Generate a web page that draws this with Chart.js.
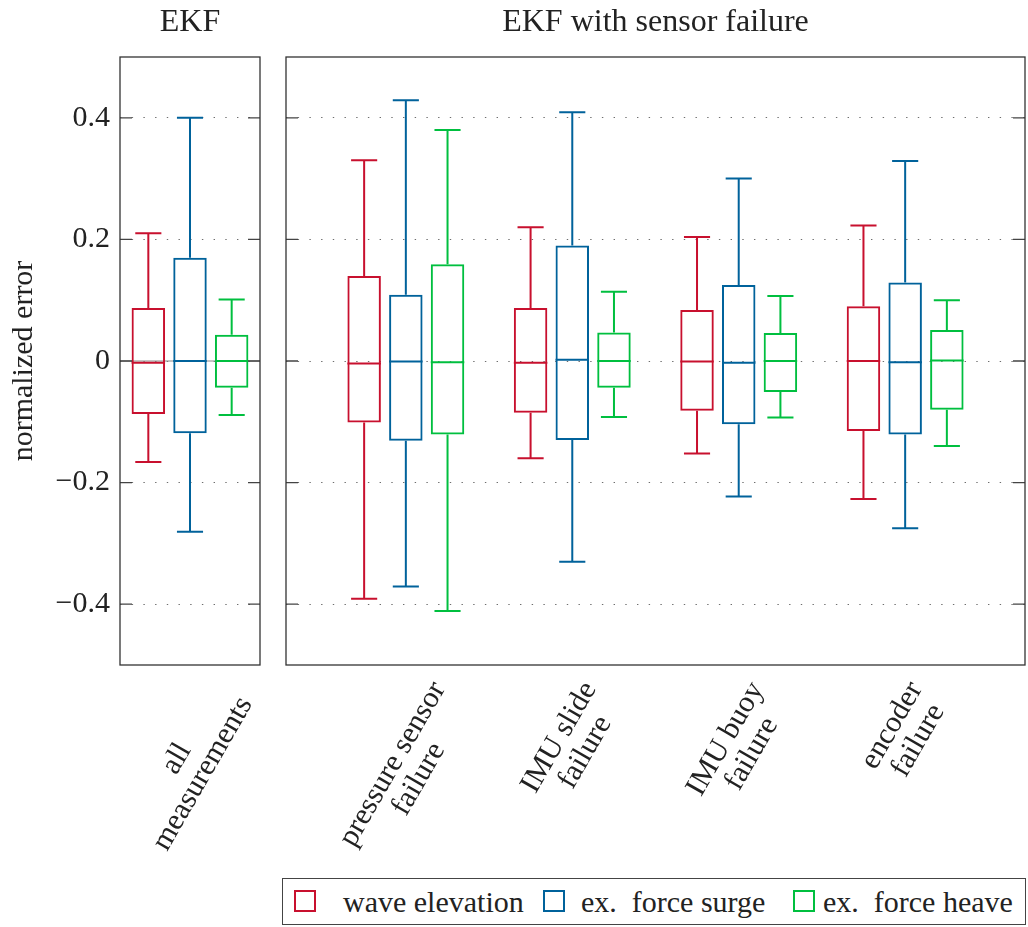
<!DOCTYPE html>
<html>
<head>
<meta charset="utf-8">
<title>normalized error box plots</title>
<script src="https://cdn.jsdelivr.net/npm/chart.js@4.4.0/dist/chart.umd.min.js"></script>
<style>
  body { margin: 0; background: #fff; width: 1028px; height: 927px; position: relative; overflow: hidden;
         font-family: "Liberation Serif", "Times New Roman", serif; color: #222; }
  #leftWrap { position: absolute; left: 0; top: 0; width: 270px; height: 870px; }
  #rightWrap { position: absolute; left: 270px; top: 0; width: 758px; height: 870px; }
  #legend { position: absolute; left: 282px; top: 878px; width: 744px; height: 47px;
            border: 1.3px solid #444; box-sizing: border-box; }
  #legend .sq { position: absolute; top: 11px; width: 22px; height: 22px; box-sizing: border-box; border: 2px solid; }
  #legend .txt { position: absolute; top: 0; line-height: 45px; font-size: 30px; white-space: pre; }
</style>
</head>
<body>
<div id="leftWrap"><canvas id="leftChart"></canvas></div>
<div id="rightWrap"><canvas id="rightChart"></canvas></div>
<div id="legend"></div>

<script>
const FONT = '"Liberation Serif", "Times New Roman", serif';
Chart.defaults.font.family = FONT;
Chart.defaults.color = '#222';

// categories (first one goes in the "EKF" panel, the rest in the sensor failure panel)
const categories = [
  ['all', 'measurements'],
  ['pressure sensor', 'failure'],
  ['IMU slide', 'failure'],
  ['IMU buoy', 'failure'],
  ['encoder', 'failure']
];
const seriesNames = ['wave elevation', 'ex.  force surge', 'ex.  force heave'];
const seriesColors = ['#c8102e', '#00629b', '#00bf3f'];

// wave elevation
const waveMin = [-0.166, -0.391, -0.160, -0.152, -0.227];
const waveQ1  = [-0.087, -0.101, -0.085, -0.082, -0.115];
const waveMed = [-0.003, -0.004, -0.003, -0.001, 0.000];
const waveQ3  = [0.087, 0.140, 0.087, 0.084, 0.090];
const waveMax = [0.210, 0.330, 0.220, 0.204, 0.223];

// ex. force surge
const surgeMin = [-0.281, -0.371, -0.330, -0.223, -0.275];
const surgeQ1  = [-0.119, -0.131, -0.130, -0.104, -0.121];
const surgeMed = [0.000, -0.001, 0.002, -0.003, -0.002];
const surgeQ3  = [0.170, 0.109, 0.190, 0.125, 0.129];
const surgeMax = [0.400, 0.429, 0.409, 0.300, 0.329];

// ex. force heave
const heaveMin = [-0.089, -0.411, -0.092, -0.093, -0.140];
const heaveQ1  = [-0.044, -0.121, -0.044, -0.051, -0.080];
const heaveMed = [0.000, -0.002, 0.000, 0.000, 0.001];
const heaveQ3  = [0.043, 0.159, 0.047, 0.046, 0.051];
const heaveMax = [0.101, 0.380, 0.114, 0.107, 0.100];

const yTicks = [-0.4, -0.2, 0, 0.2, 0.4];

const series = [
  { min: waveMin, q1: waveQ1, med: waveMed, q3: waveQ3, max: waveMax },
  { min: surgeMin, q1: surgeQ1, med: surgeMed, q3: surgeQ3, max: surgeMax },
  { min: heaveMin, q1: heaveQ1, med: heaveMed, q3: heaveQ3, max: heaveMax }
];

const fmtTick = v => v === 0 ? '0' : (v < 0 ? '\u2212' : '') + Math.abs(v).toFixed(1);

function makeDatasets(cats, catPct) {
  return series.map((s, si) => ({
    label: seriesNames[si],
    data: cats.map((c, j) => ({ x: j, y: [s.q1[c], s.q3[c]] })),
    backgroundColor: 'rgba(0,0,0,0)',
    borderColor: seriesColors[si],
    borderWidth: 2,
    borderSkipped: false,
    categoryPercentage: catPct,
    barPercentage: 0.803
  }));
}

// whiskers, medians, frame, inward ticks and rotated category labels
function makeBoxPlugin(cats, zeroLine) {
  return {
    id: 'boxExtras',
    beforeDatasetsDraw(chart) {
      if (!zeroLine) return;
      const { ctx, chartArea } = chart;
      const y0 = chart.scales.y.getPixelForValue(0);
      ctx.save();
      ctx.strokeStyle = '#8a8a8a';
      ctx.lineWidth = 1;
      ctx.beginPath();
      ctx.moveTo(chartArea.left, y0);
      ctx.lineTo(chartArea.right, y0);
      ctx.stroke();
      ctx.restore();
    },
    afterDatasetsDraw(chart) {
      const ctx = chart.ctx;
      const yScale = chart.scales.y;
      const px = v => yScale.getPixelForValue(v);
      ctx.save();
      ctx.lineWidth = 2;
      chart.data.datasets.forEach((ds, di) => {
        const s = series[di];
        ctx.strokeStyle = seriesColors[di];
        chart.getDatasetMeta(di).data.forEach((bar, j) => {
          const c = cats[j];
          const hw = bar.width / 2;
          const cap = bar.width * 0.39;
          ctx.beginPath();
          ctx.moveTo(bar.x - hw, px(s.med[c]));
          ctx.lineTo(bar.x + hw, px(s.med[c]));
          ctx.moveTo(bar.x, px(s.q3[c]));
          ctx.lineTo(bar.x, px(s.max[c]));
          ctx.moveTo(bar.x - cap, px(s.max[c]));
          ctx.lineTo(bar.x + cap, px(s.max[c]));
          ctx.moveTo(bar.x, px(s.q1[c]));
          ctx.lineTo(bar.x, px(s.min[c]));
          ctx.moveTo(bar.x - cap, px(s.min[c]));
          ctx.lineTo(bar.x + cap, px(s.min[c]));
          ctx.stroke();
        });
      });
      ctx.restore();
    },
    afterDraw(chart) {
      const { ctx, chartArea } = chart;
      const yScale = chart.scales.y;
      const xScale = chart.scales.x;
      ctx.save();
      // inward tick marks on both sides
      ctx.strokeStyle = '#444';
      ctx.lineWidth = 1.3;
      ctx.beginPath();
      yTicks.forEach(v => {
        const yy = yScale.getPixelForValue(v);
        ctx.moveTo(chartArea.left, yy);
        ctx.lineTo(chartArea.left + 12, yy);
        ctx.moveTo(chartArea.right - 12, yy);
        ctx.lineTo(chartArea.right, yy);
      });
      ctx.stroke();
      // frame
      ctx.strokeStyle = '#333';
      ctx.strokeRect(chartArea.left, chartArea.top, chartArea.right - chartArea.left, chartArea.bottom - chartArea.top);

      // category labels, rotated 60 degrees, lines centred
      ctx.font = '30px ' + FONT;
      ctx.fillStyle = '#222';
      ctx.textAlign = 'center';
      ctx.textBaseline = 'middle';
      const lh = 30;
      const a = Math.PI / 3;
      cats.forEach((c, j) => {
        const lines = categories[c];
        const w = Math.max(...lines.map(l => ctx.measureText(l).width));
        const h = lines.length * lh;
        const cx = xScale.getPixelForValue(j);
        const cy = chartArea.bottom + 12 + (w * Math.sin(a) + h * Math.cos(a)) / 2;
        ctx.save();
        ctx.translate(cx, cy);
        ctx.rotate(-a);
        lines.forEach((l, i) => ctx.fillText(l, 0, (i - (lines.length - 1) / 2) * lh));
        ctx.restore();
      });
      ctx.restore();
    }
  };
}

function makeOptions(title, xMin, xMax, nCats, withAxis, padding) {
  return {
    responsive: true,
    maintainAspectRatio: false,
    animation: false,
    layout: { padding },
    plugins: {
      legend: { display: false },
      tooltip: { enabled: false },
      title: {
        display: true,
        text: title,
        fullSize: false,
        font: { size: 32, weight: 'normal', family: FONT },
        color: '#222',
        padding: { top: 3, bottom: 15.6 }
      }
    },
    scales: {
      x: {
        type: 'linear',
        display: false,
        offset: false,
        min: xMin,
        max: xMax,
        afterBuildTicks: s => { s.ticks = Array.from({ length: nCats }, (_, i) => ({ value: i })); }
      },
      y: {
        min: -0.5,
        max: 0.5,
        afterBuildTicks: s => { s.ticks = yTicks.map(v => ({ value: v })); },
        afterFit: s => { s.width = withAxis ? 120 : 0; },
        ticks: {
          display: withAxis,
          padding: 10,
          font: { size: 30, family: FONT },
          color: '#222',
          callback: v => fmtTick(v)
        },
        grid: { color: '#6e6e6e', lineWidth: 1, drawTicks: false },
        border: { display: false, dash: [1.4, 10.3] },
        title: {
          display: withAxis,
          text: 'normalized error',
          font: { size: 30, family: FONT },
          color: '#222',
          padding: { top: 6, bottom: 0 }
        }
      }
    }
  };
}

const leftCats = [0];
const rightCats = [1, 2, 3, 4];

new Chart(document.getElementById('leftChart'), {
  type: 'bar',
  data: { datasets: makeDatasets(leftCats, 0.893) },
  options: makeOptions('EKF', -0.42, 0.42, leftCats.length, true, { left: 0, right: 10, top: 0, bottom: 205 }),
  plugins: [makeBoxPlugin(leftCats, true)]
});

new Chart(document.getElementById('rightChart'), {
  type: 'bar',
  data: { datasets: makeDatasets(rightCats, 0.7515) },
  options: makeOptions('EKF with sensor failure', -0.72, 3.72, rightCats.length, false, { left: 16, right: 3, top: 0, bottom: 205 }),
  plugins: [makeBoxPlugin(rightCats, false)]
});

// legend
const legend = document.getElementById('legend');
const sqLeft = [11, 260, 510];
const txtLeft = [60, 298, 540];
seriesNames.forEach((name, i) => {
  const sq = document.createElement('div');
  sq.className = 'sq';
  sq.style.left = sqLeft[i] + 'px';
  sq.style.borderColor = seriesColors[i];
  legend.appendChild(sq);
  const t = document.createElement('div');
  t.className = 'txt';
  t.style.left = txtLeft[i] + 'px';
  t.textContent = name;
  legend.appendChild(t);
});
</script>
</body>
</html>
